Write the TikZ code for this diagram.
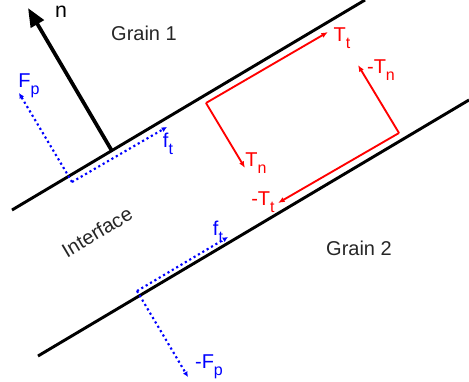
\documentclass[tikz,border=0pt]{standalone}
\usepackage{fontspec}
\setmainfont{Liberation Sans}
\usepackage{tikz}
\usetikzlibrary{arrows.meta}

\newcommand{\lowsub}[1]{\raisebox{-5pt}{\fontsize{12}{12}\selectfont #1}}

\begin{document}
\begin{tikzpicture}[x=0.75pt, y=-0.75pt,
    bound/.style={line width=2.2pt, black},
    normal/.style={-{Triangle[length=14pt, width=11pt]}, line width=2.8pt},
    frc/.style={-{Latex[length=4pt, width=4pt]}, blue, line width=1.6pt,
      dash pattern=on 1.6pt off 2.2pt},
    trc/.style={-{Latex[length=5pt, width=4pt]}, red, line width=1.4pt},
    lbl/.style={font=\fontsize{15}{18}\selectfont, inner sep=0pt},
    lblb/.style={lbl, blue},
    lblr/.style={lbl, red}
  ]
    \useasboundingbox (0,0) rectangle (469,382);

    % grain boundaries
    \coordinate (g1a) at (12,210);
    \coordinate (g1b) at (365,0);
    \coordinate (g2a) at (38,356);
    \coordinate (g2b) at (469,100);
    \draw[bound] (g1a) -- (g1b);
    \draw[bound] (g2a) -- (g2b);

    % normal
    \coordinate (nbase) at (112,151);
    \coordinate (ntip) at (28,8);
    \draw[normal] (nbase) -- (ntip);
    \node[lbl, font=\fontsize{16}{18}\selectfont] (nlab) at (61,12) {n};

    \node[lbl, text=black!85] (grain1) at (144,33) {Grain 1};
    \node[lbl, text=black!85] (grain2) at (359,248) {Grain 2};
    \node[lbl, text=black!85, rotate=30.7] (intf) at (97,232) {Interface};

    % forces on the boundaries
    \coordinate (c1) at (72,182);
    \coordinate (fp) at (19,93);
    \coordinate (ft1) at (167,127);
    \draw[frc] (c1) -- (fp);
    \draw[frc] (c1) -- (ft1);
    \node[lblb] (fplab) at (29,86) {F\lowsub{p}};
    \node[lblb] (ft1lab) at (168,144) {f\lowsub{t}};

    \coordinate (c2) at (137,291);
    \coordinate (mfp) at (188,377);
    \coordinate (ft2) at (228,237);
    \draw[frc] (c2) -- (mfp);
    \draw[frc] (c2) -- (ft2);
    \node[lblb] (ft2lab) at (218,232) {f\lowsub{t}};
    \node[lblb] (mfplab) at (209,367) {-F\lowsub{p}};

    % tractions
    \coordinate (r1) at (206,103);
    \coordinate (tt) at (328,32);
    \coordinate (tn) at (245,168);
    \coordinate (r2) at (399,133);
    \coordinate (mtn) at (358,65);
    \coordinate (mtt) at (278,203);
    \draw[trc] (r1) -- (tt);
    \draw[trc] (r1) -- (tn);
    \draw[trc] (r2) -- (mtn);
    \draw[trc] (r2) -- (mtt);
    \node[lblr] (ttlab) at (342,38) {T\lowsub{t}};
    \node[lblr] (tnlab) at (256,163) {T\lowsub{n}};
    \node[lblr] (mtnlab) at (381,70) {-T\lowsub{n}};
    \node[lblr] (mttlab) at (263,202) {-T\lowsub{t}};
\end{tikzpicture}
\end{document}
